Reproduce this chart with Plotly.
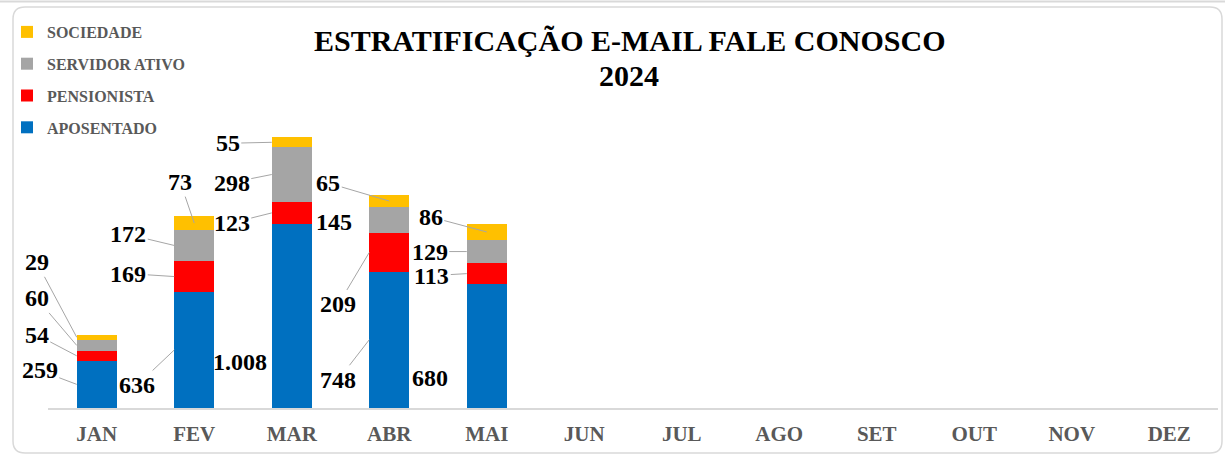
import plotly.graph_objects as go

# Data
months = ["JAN", "FEV", "MAR", "ABR", "MAI", "JUN", "JUL", "AGO", "SET", "OUT", "NOV", "DEZ"]
aposentado = [259, 636, 1008, 748, 680]
pensionista = [54, 169, 123, 209, 113]
servidor_ativo = [60, 172, 298, 145, 129]
sociedade = [29, 73, 55, 65, 86]

series_names = ["APOSENTADO", "PENSIONISTA", "SERVIDOR ATIVO", "SOCIEDADE"]
series_values = [aposentado, pensionista, servidor_ativo, sociedade]
colors = ["#0070C0", "#FF0000", "#A5A5A5", "#FFC000"]

# Figure geometry (pixels)
W, H = 1225, 457
ML, MR, MT, MB = 48, 7, 107, 49
PW, PH = W - ML - MR, H - MT - MB

SERIF = "Liberation Serif"

fig = go.Figure()
for k, (name, vals, col) in enumerate(zip(series_names, series_values, colors)):
    fig.add_trace(go.Bar(
        x=months[:len(vals)], y=vals, name=name, legendgroup=name,
        legendrank=len(series_names) - k,
        marker=dict(color=col, line=dict(width=0)),
        hoverinfo="x+y+name",
    ))

# label placement per (month, series): xshift of leader tip, text offset ax/ay, show leader
label_pos = {
    (0, 0): (-20, -37, -14, True), (0, 1): (-20, -40, -21, True),
    (0, 2): (-20, -40, -47, True), (0, 3): (-20, -40, -75, True),
    (1, 0): (-20, -37, 35, True), (1, 1): (-20, -46, -3, True),
    (1, 2): (-20, -46, -11, True), (1, 3): (0, -14, -41, True),
    (2, 0): (-20, -32, 46, False), (2, 1): (-20, -40, 10, True),
    (2, 2): (-20, -40, 8, True), (2, 3): (-20, -44, 1, True),
    (3, 0): (-20, -31, 40, True), (3, 1): (-20, -31, 52, True),
    (3, 2): (-20, -35, 2, False), (3, 3): (0, -61, -18, True),
    (4, 0): (-20, -37, 32, False), (4, 1): (-20, -35, 2, True),
    (4, 2): (-20, -37, 0, True), (4, 3): (0, -56, -15, True),
}


def fmt(v):
    return f"{v:,}".replace(",", ".")


def px_x(p):
    return (p - ML) / PW


def px_y(p):
    return (H - MB - p) / PH


annotations = []
for i in range(len(aposentado)):
    base = 0
    for s, vals in enumerate(series_values):
        v = vals[i]
        xs, ax, ay, line = label_pos[(i, s)]
        annotations.append(dict(
            x=months[i], y=base + v / 2, xref="x", yref="y",
            xshift=xs, ax=ax, ay=ay, axref="pixel", ayref="pixel",
            text=fmt(v), showarrow=True, arrowhead=0, arrowwidth=1,
            arrowcolor="#A6A6A6" if line else "rgba(0,0,0,0)",
            font=dict(family=SERIF, size=24, color="#000000", weight="bold"),
        ))
        base += v

# title as two centred lines
for txt, ypx in [("ESTRATIFICAÇÃO E-MAIL FALE CONOSCO", 41), ("2024", 75)]:
    annotations.append(dict(
        text=txt, x=px_x(629), y=px_y(ypx), xref="paper", yref="paper",
        showarrow=False, xanchor="center", yanchor="middle",
        font=dict(family=SERIF, size=30, color="#000000", weight="bold"),
    ))

# rounded frame around the chart
x0, x1, y0, y1, r = 13, 1222, 7, 453, 12
rx, ry = r / PW, r / PH
frame_path = (
    f"M {px_x(x0) + rx},{px_y(y0)} L {px_x(x1) - rx},{px_y(y0)} "
    f"Q {px_x(x1)},{px_y(y0)} {px_x(x1)},{px_y(y0) - ry} "
    f"L {px_x(x1)},{px_y(y1) + ry} Q {px_x(x1)},{px_y(y1)} {px_x(x1) - rx},{px_y(y1)} "
    f"L {px_x(x0) + rx},{px_y(y1)} Q {px_x(x0)},{px_y(y1)} {px_x(x0)},{px_y(y1) + ry} "
    f"L {px_x(x0)},{px_y(y0) - ry} Q {px_x(x0)},{px_y(y0)} {px_x(x0) + rx},{px_y(y0)} Z"
)

fig.update_layout(
    width=W, height=H,
    margin=dict(l=ML, r=MR, t=MT, b=MB, autoexpand=False),
    paper_bgcolor="white", plot_bgcolor="white",
    barmode="stack", bargap=0.59,
    legend=dict(
        xref="container", yref="container",
        x=7 / W, xanchor="left", y=1 - 15 / H, yanchor="top",
        traceorder="grouped", tracegroupgap=8,
        font=dict(family=SERIF, size=16, color="#595959", weight="bold"),
        bgcolor="rgba(0,0,0,0)",
    ),
    xaxis=dict(
        categoryorder="array", categoryarray=months, range=[-0.5, 11.5],
        showline=True, linecolor="#D9D9D9", linewidth=2,
        showgrid=False, zeroline=False, ticks="",
        ticklabelstandoff=6,
        tickfont=dict(family=SERIF, size=21, color="#595959", weight="bold"),
        fixedrange=True,
    ),
    yaxis=dict(range=[0, 1650], visible=False, showgrid=False, fixedrange=True),
    annotations=annotations,
    shapes=[
        dict(type="path", path=frame_path, xref="paper", yref="paper",
             line=dict(color="#D9D9D9", width=1.5), layer="below"),
        dict(type="line", x0=px_x(0), x1=px_x(W), y0=px_y(1.5), y1=px_y(1.5),
             xref="paper", yref="paper", line=dict(color="#D9D9D9", width=2)),
    ],
    showlegend=True,
)

# page has a default body margin; remove it so the figure fills the window
fig.write_html("out.html", config={"displayModeBar": False},
               post_script="document.body.style.margin='0';")
